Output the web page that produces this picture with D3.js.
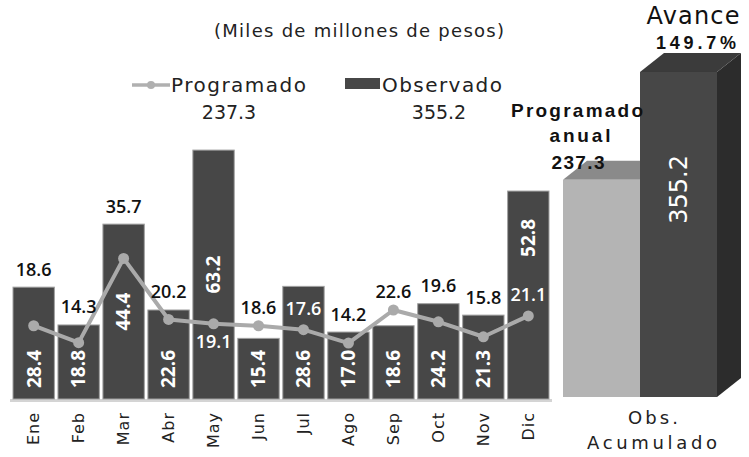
<!DOCTYPE html>
<html>
<head>
<meta charset="utf-8">
<script src="https://cdn.jsdelivr.net/npm/d3@7"></script>
<style>
  body { margin: 0; background: #fff; }
  svg { display: block; font-family: "DejaVu Sans", sans-serif; }
  .val { font-family: "Open Sans", "Noto Sans", sans-serif; }
</style>
</head>
<body>
<div id="chart"></div>
<script>
// Part 1: Data
// ==============================
var months = ["Ene", "Feb", "Mar", "Abr", "May", "Jun", "Jul", "Ago", "Sep", "Oct", "Nov", "Dic"];
var observado = [28.4, 18.8, 44.4, 22.6, 63.2, 15.4, 28.6, 17.0, 18.6, 24.2, 21.3, 52.8];
var programado = [18.6, 14.3, 35.7, 20.2, 19.1, 18.6, 17.6, 14.2, 22.6, 19.6, 15.8, 21.1];

var totalNames = ["Programado anual", "Obs. Acumulado"];
var totalValues = [237.3, 355.2];
var avance = "149.7%";

// months where the programado label sits inside the bar (white)
var progInside = ["May", "Jul", "Dic"];
var progBelow = ["May"];

// Part 2: Plot area
// ==============================
var svgWidth = 749;
var svgHeight = 457;

var svg = d3.select("#chart")
  .append("svg")
  .attr("width", svgWidth)
  .attr("height", svgHeight);

var baseY = 399;

var xScale = d3.scaleBand()
  .domain(months)
  .range([11.2, 550.8])
  .paddingInner(0.08)
  .paddingOuter(0.04);

var yScale = d3.scaleLinear()
  .domain([0, 65])
  .range([baseY, 143]);

// title + legend
svg.append("text")
  .attr("x", 214).attr("y", 37)
  .attr("textLength", 290).attr("lengthAdjust", "spacing")
  .style("font-size", "18px").attr("fill", "#222")
  .text("(Miles de millones de pesos)");

svg.append("line")
  .attr("x1", 132).attr("x2", 170).attr("y1", 85).attr("y2", 85)
  .attr("stroke", "#b0b0b0").attr("stroke-width", 3.5);
svg.append("circle").attr("cx", 151).attr("cy", 85).attr("r", 4).attr("fill", "#b0b0b0");
svg.append("text")
  .attr("x", 171).attr("y", 92)
  .attr("textLength", 135).attr("lengthAdjust", "spacing")
  .style("font-size", "20px").attr("fill", "#222")
  .text("Programado");
svg.append("text")
  .attr("x", 229).attr("y", 119).attr("text-anchor", "middle")
  .style("font-size", "19px").attr("fill", "#222")
  .text(totalValues[0].toFixed(1));

svg.append("rect")
  .attr("x", 345).attr("y", 78).attr("width", 35).attr("height", 11)
  .attr("fill", "#474747");
svg.append("text")
  .attr("x", 382).attr("y", 92)
  .attr("textLength", 120).attr("lengthAdjust", "spacing")
  .style("font-size", "20px").attr("fill", "#222")
  .text("Observado");
svg.append("text")
  .attr("x", 439).attr("y", 119).attr("text-anchor", "middle")
  .style("font-size", "19px").attr("fill", "#222")
  .text(totalValues[1].toFixed(1));

// Part 3: Monthly bars and line
// ==============================
svg.append("line")
  .attr("x1", 10).attr("x2", 552).attr("y1", baseY + 1.5).attr("y2", baseY + 1.5)
  .attr("stroke", "#d4d4d4").attr("stroke-width", 3);

svg.append("g")
  .selectAll("rect")
  .data(observado)
  .enter()
  .append("rect")
  .attr("x", (d, i) => xScale(months[i]))
  .attr("y", d => yScale(d))
  .attr("width", xScale.bandwidth())
  .attr("height", d => baseY - yScale(d))
  .attr("fill", "#474747")
  .attr("stroke", "#a0a0a0")
  .attr("stroke-width", 1);

var cx = i => xScale(months[i]) + xScale.bandwidth() / 2;

var line = d3.line()
  .x((d, i) => cx(i))
  .y(d => yScale(d));

svg.append("path")
  .datum(programado)
  .attr("d", line)
  .attr("fill", "none")
  .attr("stroke", "#aaa")
  .attr("stroke-width", 4)
  .attr("stroke-linejoin", "round");

svg.append("g")
  .selectAll("circle")
  .data(programado)
  .enter()
  .append("circle")
  .attr("cx", (d, i) => cx(i))
  .attr("cy", d => yScale(d))
  .attr("r", 5.5)
  .attr("fill", "#aaa");

// programado labels
var progLabelY = programado.map(function(d, i) {
  var m = months[i];
  var pt = yScale(d);
  if (progBelow.indexOf(m) >= 0) return pt + 18;
  if (progInside.indexOf(m) >= 0) return pt - 21;
  return Math.min(pt, yScale(observado[i])) - 18;
});

svg.append("g")
  .selectAll("text")
  .data(programado)
  .enter()
  .append("text")
  .attr("class", "val")
  .attr("x", (d, i) => cx(i))
  .attr("y", (d, i) => progLabelY[i])
  .attr("dy", "0.36em")
  .attr("text-anchor", "middle")
  .style("font-size", "18px")
  .style("font-weight", "600")
  .attr("fill", (d, i) => progInside.indexOf(months[i]) >= 0 ? "#fff" : "#111")
  .text(d => d.toFixed(1));

// observado labels, rotated
svg.append("g")
  .selectAll("text")
  .data(observado)
  .enter()
  .append("text")
  .attr("class", "val")
  .each(function(d, i) {
    var t = d3.select(this);
    var top = yScale(d);
    if (d > 40) {
      var bottom = baseY;
      var m = months[i];
      if (progInside.indexOf(m) >= 0 && progBelow.indexOf(m) < 0) bottom = progLabelY[i] - 10;
      t.attr("transform", `translate(${cx(i)},${(top + bottom) / 2}) rotate(-90)`)
        .attr("text-anchor", "middle");
    } else {
      t.attr("transform", `translate(${cx(i)},${baseY - 11}) rotate(-90)`)
        .attr("text-anchor", "start");
    }
  })
  .attr("dy", "0.36em")
  .style("font-size", "19px")
  .style("font-weight", "bold")
  .attr("fill", "#fff")
  .text(d => d.toFixed(1));

// month axis
var xAxis = svg.append("g")
  .attr("transform", `translate(0, ${baseY})`)
  .call(d3.axisBottom(xScale).tickSize(0).tickPadding(0));
xAxis.select(".domain").remove();
xAxis.selectAll("text")
  .attr("transform", "rotate(-90)")
  .attr("text-anchor", "end")
  .attr("x", -13)
  .attr("y", 0)
  .attr("dy", "0.35em")
  .attr("fill", "#222")
  .style("font-family", "DejaVu Sans, sans-serif")
  .style("font-size", "16px")
  .style("letter-spacing", "1px");

// Part 4: Accumulated 3D bars
// ==============================
var base2 = 397;
var depthX = 24, depthY = 19;

var x2 = d3.scaleBand()
  .domain(totalNames)
  .range([563, 717]);

var y2 = d3.scaleLinear()
  .domain([0, 400])
  .range([base2, 31]);

var faceColors = [
  { front: "#b4b4b4", top: "#8a8a8a", side: "#9a9a9a" },
  { front: "#474747", top: "#3b3b3b", side: "#2c2c2c" }
];

var bars3d = svg.append("g")
  .selectAll("g")
  .data(totalValues)
  .enter()
  .append("g");

bars3d.each(function(d, i) {
  var g = d3.select(this);
  var x0 = x2(totalNames[i]);
  var x1 = x0 + x2.bandwidth();
  var top = y2(d);
  var c = faceColors[i];
  g.append("path")
    .attr("d", `M${x1},${top}L${x1 + depthX},${top - depthY}L${x1 + depthX},${base2 - depthY}L${x1},${base2}Z`)
    .attr("fill", c.side);
  g.append("path")
    .attr("d", `M${x0},${top}L${x0 + depthX},${top - depthY}L${x1 + depthX},${top - depthY}L${x1},${top}Z`)
    .attr("fill", c.top);
  g.append("rect")
    .attr("x", x0).attr("y", top)
    .attr("width", x1 - x0).attr("height", base2 - top)
    .attr("fill", c.front);
});

// value inside the observed bar
var obsX = x2(totalNames[1]) + x2.bandwidth() / 2;
svg.append("text")
  .attr("transform", `translate(${obsX}, ${y2(totalValues[1]) + 83}) rotate(-90)`)
  .attr("text-anchor", "end")
  .attr("dy", "0.36em")
  .style("font-size", "24px")
  .attr("fill", "#fff")
  .text(totalValues[1].toFixed(1));

// programado anual label
var progTop = y2(totalValues[0]);
svg.append("text")
  .attr("x", 511).attr("y", progTop - 63)
  .attr("textLength", 132).attr("lengthAdjust", "spacing")
  .style("font-family", "Liberation Sans, sans-serif")
  .style("font-size", "19px").style("font-weight", "bold").attr("fill", "#111")
  .text("Programado");
svg.append("text")
  .attr("x", 580).attr("y", progTop - 38).attr("text-anchor", "middle")
  .attr("textLength", 61).attr("lengthAdjust", "spacing")
  .style("font-family", "Liberation Sans, sans-serif")
  .style("font-size", "19px").style("font-weight", "bold").attr("fill", "#111")
  .text("anual");
svg.append("text")
  .attr("x", 578).attr("y", progTop - 11).attr("text-anchor", "middle")
  .attr("textLength", 53).attr("lengthAdjust", "spacing")
  .style("font-family", "Liberation Sans, sans-serif")
  .style("font-size", "19px").style("font-weight", "bold").attr("fill", "#111")
  .text(totalValues[0].toFixed(1));

// avance
svg.append("text")
  .attr("x", 693).attr("y", 24).attr("text-anchor", "middle")
  .attr("textLength", 93).attr("lengthAdjust", "spacing")
  .style("font-size", "24px").attr("fill", "#111")
  .text("Avance");
svg.append("text")
  .attr("x", 696).attr("y", 49).attr("text-anchor", "middle")
  .attr("textLength", 80).attr("lengthAdjust", "spacing")
  .style("font-family", "Liberation Sans, sans-serif")
  .style("font-size", "18px").style("font-weight", "bold").attr("fill", "#111")
  .text(avance);

// category label under the 3D bars
svg.append("text")
  .attr("x", 653).attr("y", 424).attr("text-anchor", "middle")
  .attr("textLength", 50).attr("lengthAdjust", "spacing")
  .style("font-size", "18px").attr("fill", "#222")
  .text("Obs.");
svg.append("text")
  .attr("x", 652).attr("y", 449).attr("text-anchor", "middle")
  .attr("textLength", 130).attr("lengthAdjust", "spacing")
  .style("font-size", "18px").attr("fill", "#222")
  .text("Acumulado");
</script>
</body>
</html>
